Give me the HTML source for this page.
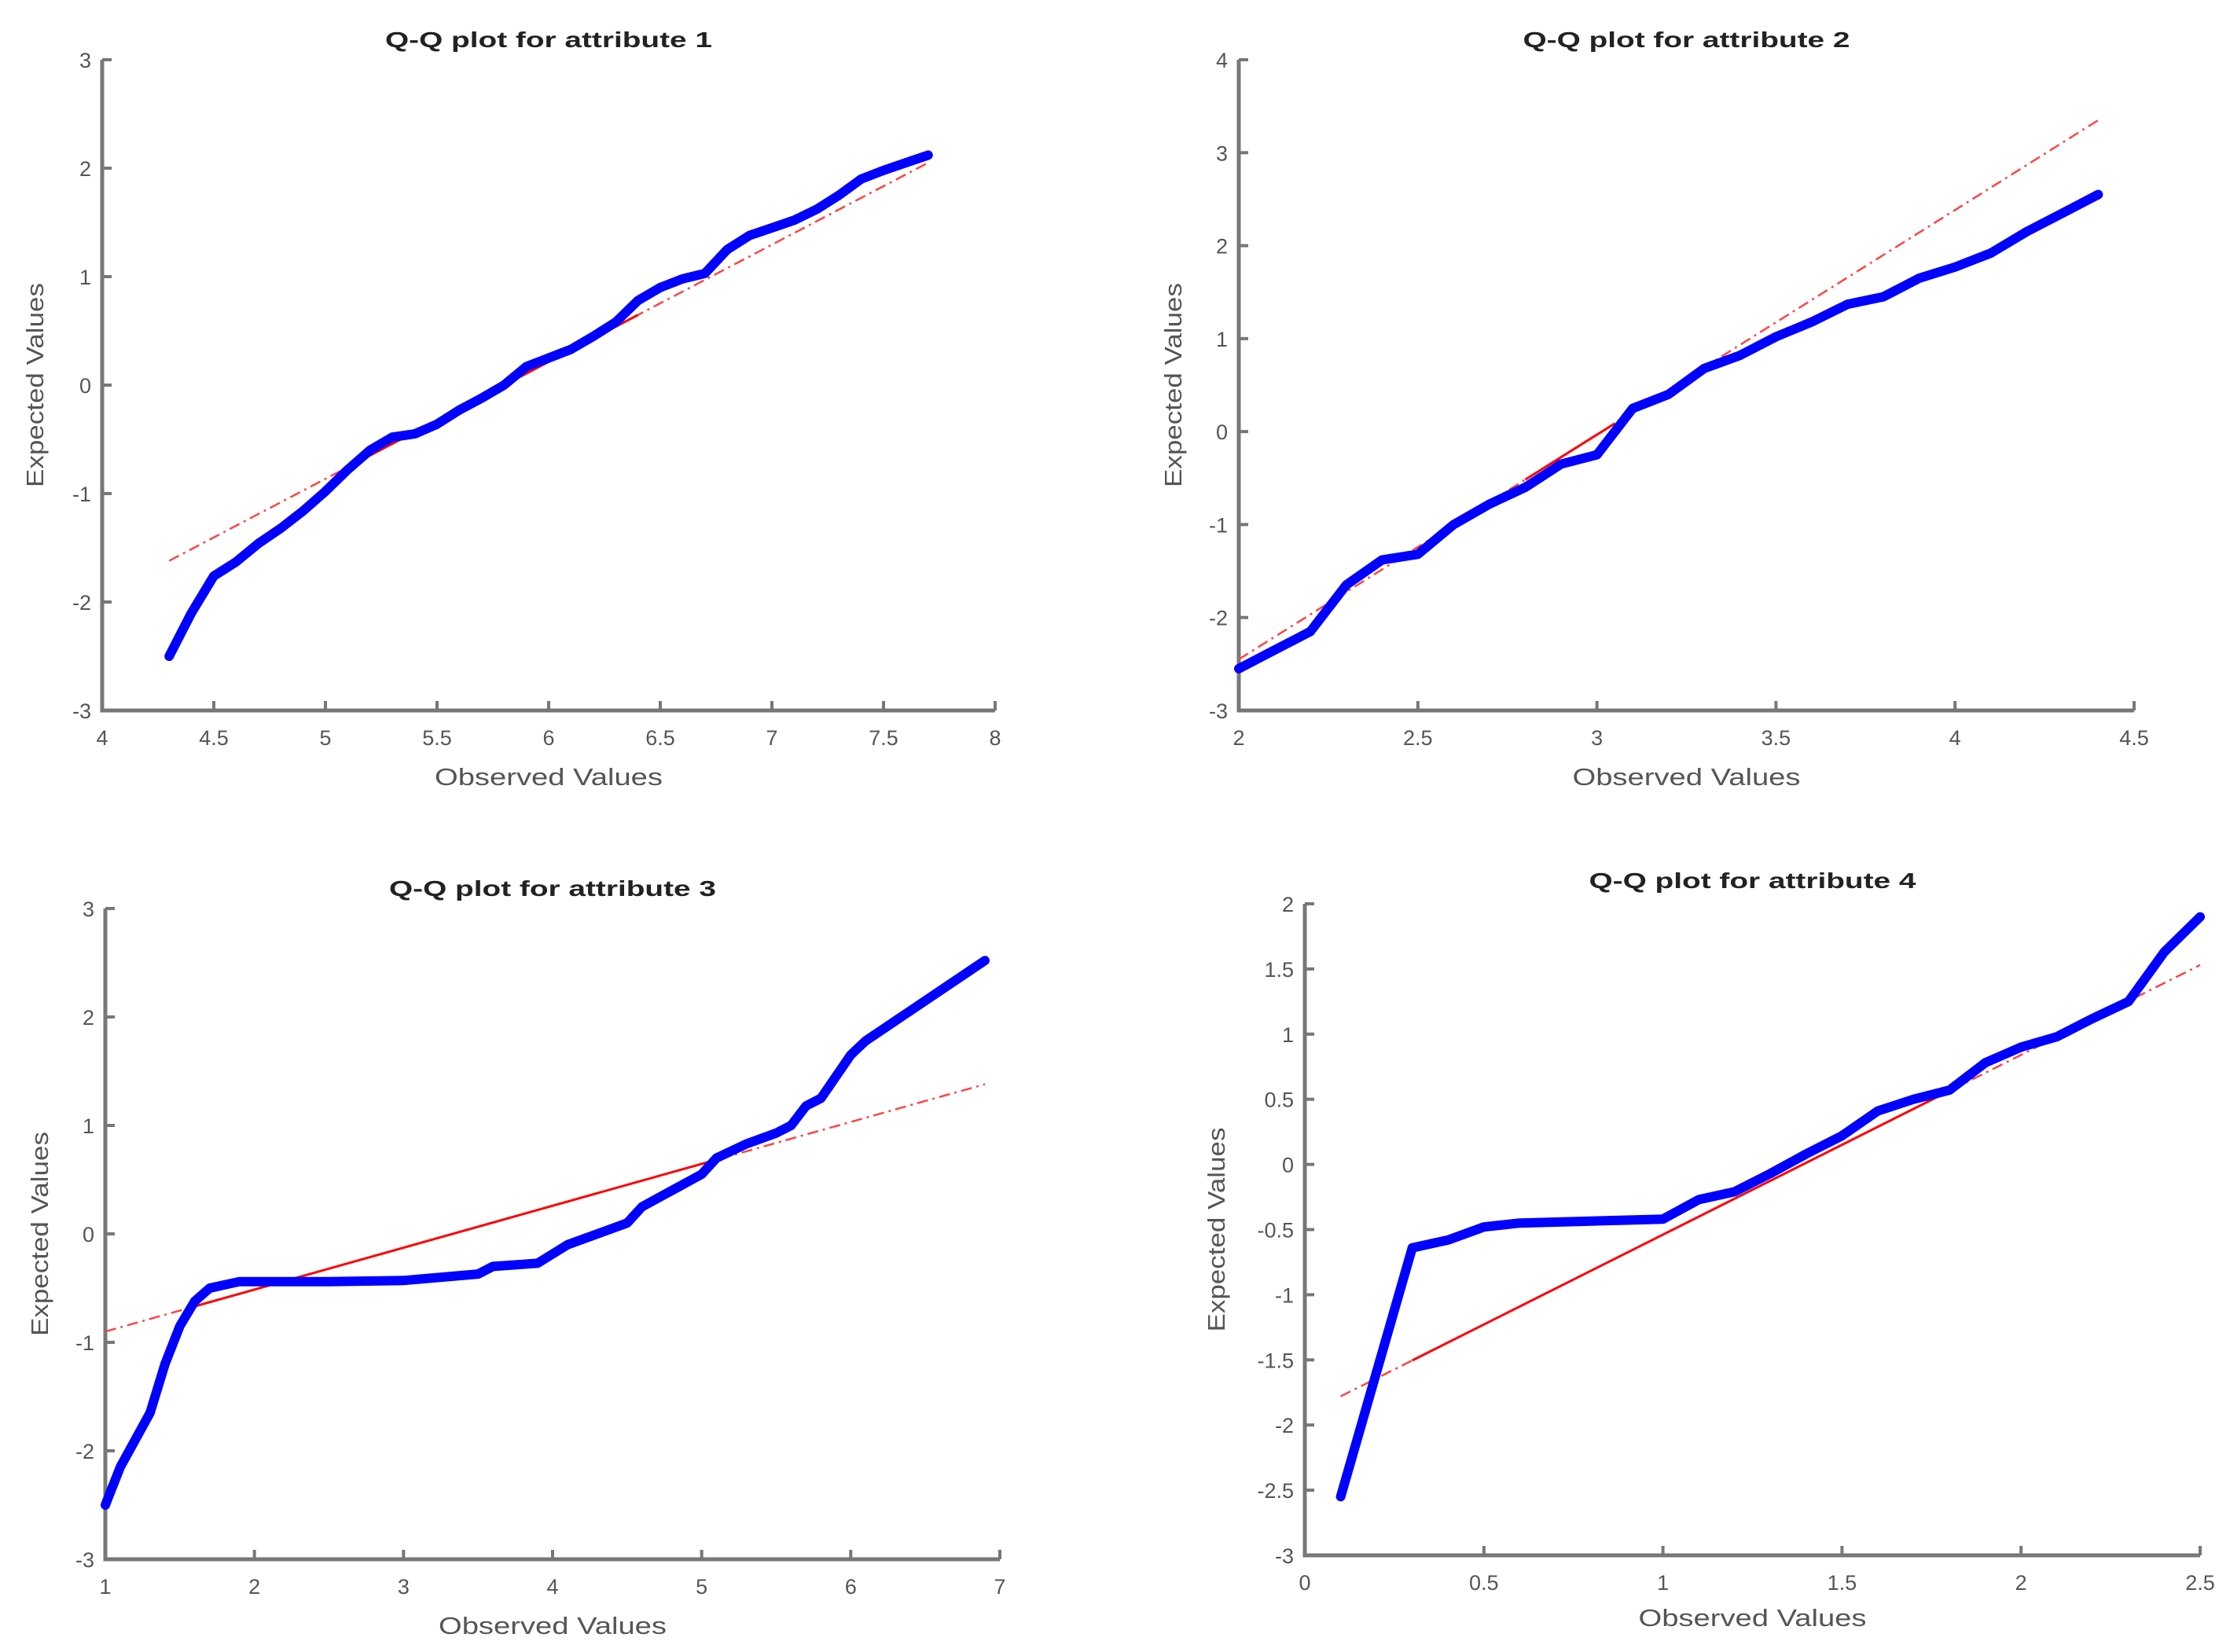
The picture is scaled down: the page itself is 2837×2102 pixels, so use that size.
<!DOCTYPE html>
<html><head><meta charset="utf-8"><style>
html,body{margin:0;padding:0;background:#fff;}
svg{display:block;}
text{font-family:"Liberation Sans",sans-serif;}
</style></head><body>
<svg id="fig" width="2837" height="2102" viewBox="0 0 2837 2102" xmlns="http://www.w3.org/2000/svg"></svg>
<script>
// ---- data ----
const p1X = [4.3,4.4,4.5,4.6,4.7,4.8,4.9,5.0,5.1,5.2,5.3,5.4,5.5,5.6,5.7,5.8,5.9,6.0,6.1,6.2,6.3,6.4,6.5,6.6,6.7,6.8,6.9,7.0,7.1,7.2,7.3,7.4,7.5,7.6,7.7];
const p1Y = [-2.5,-2.1,-1.76,-1.63,-1.46,-1.32,-1.16,-0.98,-0.78,-0.6,-0.48,-0.45,-0.36,-0.23,-0.12,0.0,0.17,0.25,0.33,0.45,0.58,0.78,0.9,0.98,1.03,1.25,1.38,1.45,1.52,1.62,1.75,1.9,1.98,2.05,2.12];
const p1Ref = [4.3,-1.62,7.7,2.05];
const p1Solid = [5.1,6.4];
const p2X = [2.0,2.1,2.2,2.3,2.4,2.5,2.6,2.7,2.8,2.9,3.0,3.1,3.2,3.3,3.4,3.5,3.6,3.7,3.8,3.9,4.0,4.1,4.2,4.3,4.4];
const p2Y = [-2.55,-2.35,-2.15,-1.65,-1.38,-1.32,-1.0,-0.78,-0.6,-0.35,-0.25,0.25,0.4,0.68,0.82,1.02,1.18,1.37,1.45,1.65,1.77,1.92,2.15,2.35,2.55];
const p2Ref = [2.0,-2.45,4.4,3.35];
const p2Solid = [2.8,3.05];
const p3X = [1.0,1.1,1.3,1.4,1.5,1.6,1.7,1.9,2.5,3.0,3.5,3.6,3.9,4.1,4.3,4.5,4.6,4.8,5.0,5.1,5.3,5.5,5.6,5.7,5.8,6.0,6.1,6.9];
const p3Y = [-2.5,-2.15,-1.65,-1.2,-0.85,-0.62,-0.5,-0.44,-0.44,-0.43,-0.37,-0.3,-0.27,-0.1,0.0,0.1,0.25,0.4,0.55,0.7,0.83,0.93,1.0,1.18,1.25,1.65,1.78,2.52];
const p3Ref = [1.0,-0.9,6.9,1.38];
const p3Solid = [1.6,5.1];
const p4X = [0.1,0.3,0.4,0.5,0.6,1.0,1.1,1.2,1.3,1.4,1.5,1.6,1.7,1.8,1.9,2.0,2.1,2.2,2.3,2.4,2.5];
const p4Y = [-2.55,-0.64,-0.58,-0.48,-0.45,-0.42,-0.27,-0.21,-0.07,0.08,0.22,0.41,0.5,0.57,0.78,0.9,0.98,1.12,1.25,1.63,1.9];
const p4Ref = [0.1,-1.78,2.5,1.53];
const p4Solid = [0.3,1.8];
const p1XTicks = ["4","4.5","5","5.5","6","6.5","7","7.5","8"];
const p1YTicks = ["-3","-2","-1","0","1","2","3"];
const p2XTicks = ["2","2.5","3","3.5","4","4.5"];
const p2YTicks = ["-3","-2","-1","0","1","2","3","4"];
const p3XTicks = ["1","2","3","4","5","6","7"];
const p3YTicks = ["-3","-2","-1","0","1","2","3"];
const p4XTicks = ["0","0.5","1","1.5","2","2.5"];
const p4YTicks = ["-3","-2.5","-2","-1.5","-1","-0.5","0","0.5","1","1.5","2"];
const titles = ["Q-Q plot for attribute 1","Q-Q plot for attribute 2","Q-Q plot for attribute 3","Q-Q plot for attribute 4"];

const NS="http://www.w3.org/2000/svg";
const svg=document.getElementById('fig');
function mk(tag,attrs,parent){const e=document.createElementNS(NS,tag);for(const k in attrs)e.setAttribute(k,attrs[k]);(parent||svg).appendChild(e);return e;}

const panels=[
 {x0:130,x1:1266,yT:76,yB:904,xs:p1X,ys:p1Y,ref:p1Ref,solid:p1Solid,xt:p1XTicks,yt:p1YTicks,title:titles[0],tY:50,xlY:988,ylX:44},
 {x0:1576,x1:2715,yT:76,yB:904,xs:p2X,ys:p2Y,ref:p2Ref,solid:p2Solid,xt:p2XTicks,yt:p2YTicks,title:titles[1],tY:50,xlY:988,ylX:1492},
 {x0:134,x1:1272,yT:1156,yB:1984,xs:p3X,ys:p3Y,ref:p3Ref,solid:p3Solid,xt:p3XTicks,yt:p3YTicks,title:titles[2],tY:1130,xlY:2068,ylX:50},
 {x0:1660,x1:2799,yT:1150,yB:1979,xs:p4X,ys:p4Y,ref:p4Ref,solid:p4Solid,xt:p4XTicks,yt:p4YTicks,title:titles[3],tY:1120,xlY:2058,ylX:1547}
];

panels.forEach((p,i)=>{
 const g=mk('g',{});
 
 
 const xmin=parseFloat(p.xt[0]),xmax=parseFloat(p.xt[p.xt.length-1]);
 const ymin=parseFloat(p.yt[0]),ymax=parseFloat(p.yt[p.yt.length-1]);
 const sx=v=>p.x0+(v-xmin)/(xmax-xmin)*(p.x1-p.x0);
 const sy=v=>p.yB-(v-ymin)/(ymax-ymin)*(p.yB-p.yT);
 const cx=(p.x0+p.x1)/2, cy=(p.yT+p.yB)/2;
 // axes
 const ax=mk('path',{d:`M${p.x0},${p.yT} L${p.x0},${p.yB} L${p.x1},${p.yB}`,fill:'none',stroke:'#777','stroke-width':5},g);
 
 
 p.xt.forEach(t=>{const x=sx(parseFloat(t));
  mk('line',{x1:x,y1:p.yB,x2:x,y2:p.yB-12,stroke:'#777','stroke-width':4},g);
  const tx=mk('text',{x:x,y:p.yB+44,'text-anchor':'middle','font-size':27,fill:'#555'},g);tx.textContent=t;
  
  
 });
 p.yt.forEach(t=>{const y=sy(parseFloat(t));
  mk('line',{x1:p.x0,y1:y,x2:p.x0+12,y2:y,stroke:'#777','stroke-width':4},g);
  const tx=mk('text',{x:p.x0-14,y:y+10,'text-anchor':'end','font-size':27,fill:'#555'},g);tx.textContent=t;
  
  
 });
 // reference line
 const [rx1,ry1,rx2,ry2]=p.ref;
 const rl=mk('line',{x1:sx(rx1),y1:sy(ry1),x2:sx(rx2),y2:sy(ry2),stroke:'#f44','stroke-width':2.5,'stroke-dasharray':'14 6 3 6'},g);
 
 
 const yAt=v=>ry1+(v-rx1)*(ry2-ry1)/(rx2-rx1);
 const rs=mk('line',{x1:sx(p.solid[0]),y1:sy(yAt(p.solid[0])),x2:sx(p.solid[1]),y2:sy(yAt(p.solid[1])),stroke:'#f00','stroke-width':3},g);
 
 
 // data line
 const d=p.xs.map((v,k)=>(k?'L':'M')+sx(v).toFixed(1)+','+sy(p.ys[k]).toFixed(1)).join(' ');
 const dl=mk('path',{d:d,fill:'none',stroke:'#0000ff','stroke-width':12,'stroke-linejoin':'round','stroke-linecap':'round'},g);
 
 
 // title & labels
 const tt=mk('text',{x:cx,y:p.tY+10,'text-anchor':'middle','font-size':28,'font-weight':'bold',fill:'#222',textLength:416,lengthAdjust:'spacingAndGlyphs'},g);tt.textContent=p.title;
 
 
 const xl=mk('text',{x:cx,y:p.xlY+11,'text-anchor':'middle','font-size':31,fill:'#555',textLength:290,lengthAdjust:'spacingAndGlyphs'},g);xl.textContent='Observed Values';
 
 
 const yl=mk('text',{x:p.ylX+11,y:cy,'text-anchor':'middle','font-size':31,fill:'#555',textLength:260,lengthAdjust:'spacingAndGlyphs',transform:`rotate(-90 ${p.ylX+11} ${cy})`},g);yl.textContent='Expected Values';
 
 
});
</script>
</body></html>
